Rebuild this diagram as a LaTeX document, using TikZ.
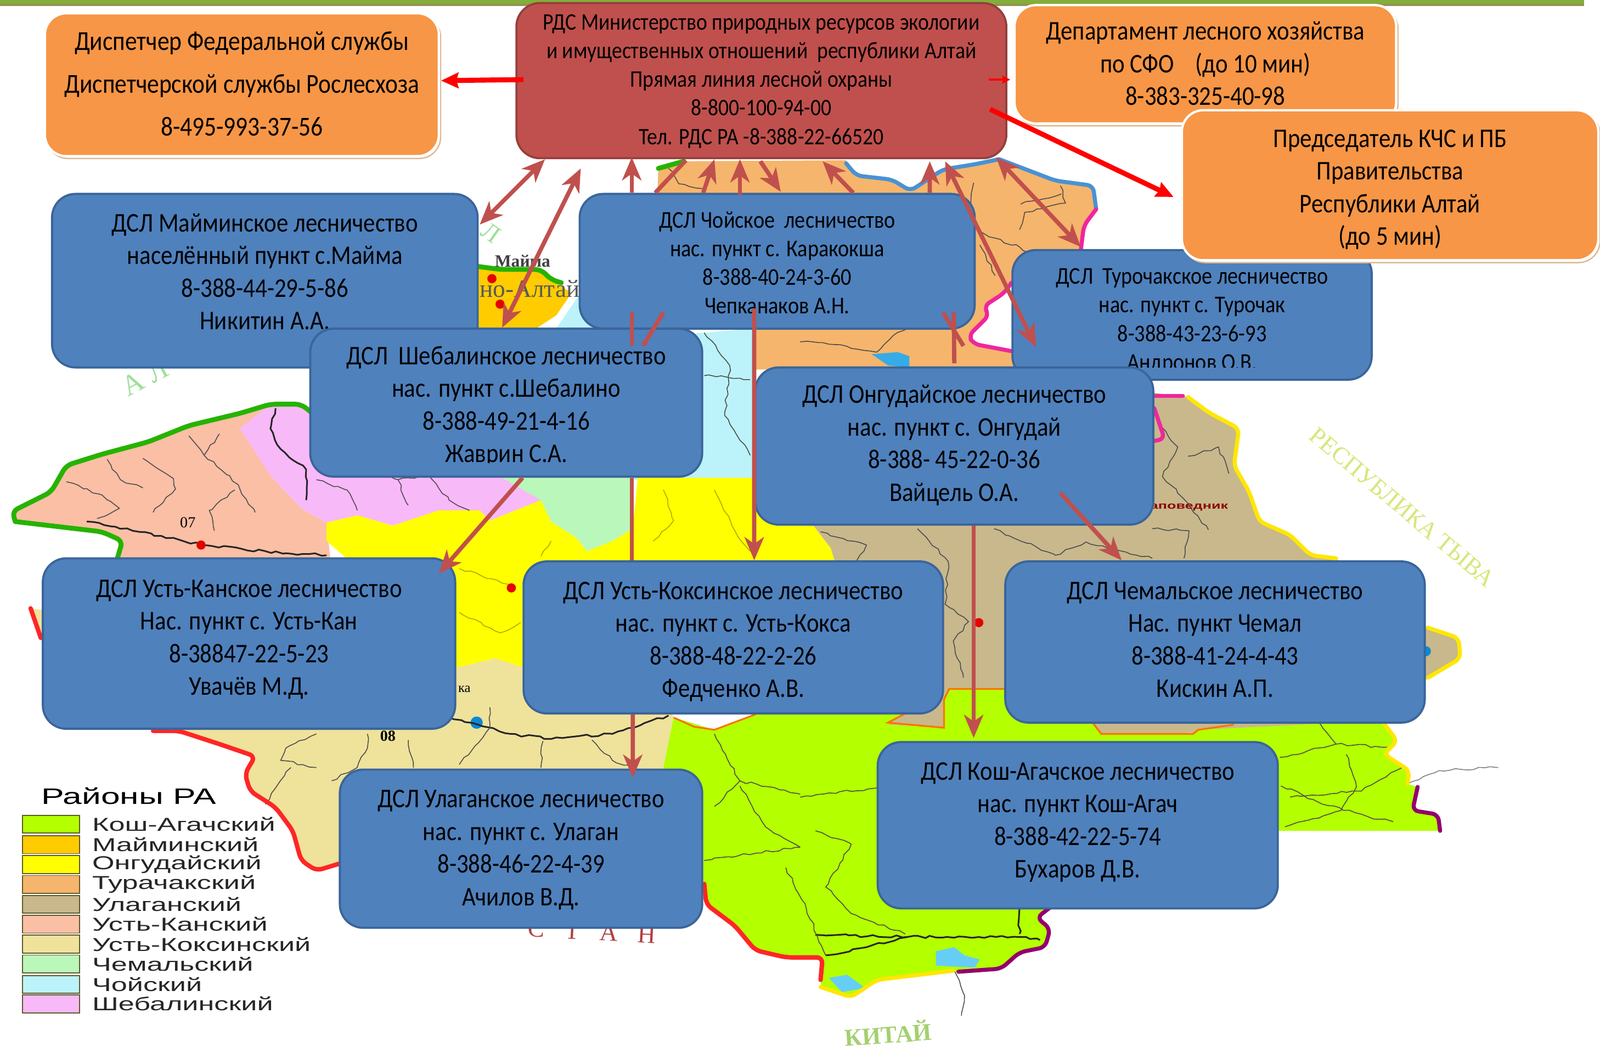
\documentclass[tikz,border=0pt]{standalone}
\usepackage{fontspec}
\setmainfont[FakeStretch=0.87]{Carlito}
\newfontfamily\legfont[FakeStretch=1.53]{Liberation Sans}
\newfontfamily\mapfont{Liberation Serif}
\usetikzlibrary{arrows.meta,shadows,decorations.pathmorphing}
\newlength\un \setlength\un{0.0186cm}
\newcommand{\lns}[4]{\smash{\raisebox{\dimexpr#3\un-2.5\un\relax}{\fontsize{#1}{#2\un}\selectfont\begin{tabular}{@{}c@{}}#4\end{tabular}}}}
\definecolor{cBlue}{HTML}{4F81BD}\definecolor{cBlueD}{HTML}{3A659A}
\definecolor{cOr}{HTML}{F79646}\definecolor{cRed}{HTML}{C0504D}\definecolor{cRedD}{HTML}{94403E}
\definecolor{mLime}{HTML}{B4FF00}\definecolor{mMai}{HTML}{FFCC00}\definecolor{mYel}{HTML}{FFFF00}
\definecolor{mTur}{HTML}{F6B56C}\definecolor{mUla}{HTML}{C8B88C}\definecolor{mKan}{HTML}{FBBFA5}
\definecolor{mKok}{HTML}{EFE29B}\definecolor{mChe}{HTML}{BAF7BA}\definecolor{mCho}{HTML}{BCF3FA}
\definecolor{mShe}{HTML}{F8B9F8}
\definecolor{lGreen}{HTML}{9FDF9A}\definecolor{lTyva}{HTML}{D8E67A}\definecolor{lChina}{HTML}{A4D070}
\tikzset{
 bluebox/.style={draw=cBlueD,line width=1.1pt,fill=cBlue,rounded corners=23\un,inner sep=0pt},
 orbox/.style={draw=white,line width=1.2pt,fill=cOr,rounded corners=21\un,inner sep=0pt,
   copy shadow={shadow xshift=0.9pt,shadow yshift=-1.2pt,fill=white,draw=brown!55!white,line width=.7pt}},
 redbox/.style={draw=cRedD,line width=1.1pt,fill=cRed,rounded corners=23\un,inner sep=0pt},
 link/.style={draw=cRed,line width=2.2pt},
 linkh/.style={link,-{Stealth[length=12pt,width=10pt,inset=3.5pt]}},
 linkd/.style={link,{Stealth[length=12pt,width=10pt,inset=3.5pt]}-{Stealth[length=12pt,width=10pt,inset=3.5pt]}},
 hot/.style={draw=red,line width=2.6pt,-{Stealth[length=9pt,width=8pt,inset=1pt]}},
 hotthin/.style={draw=red,line width=.9pt,-{Stealth[length=4.2pt,width=4.2pt,inset=.5pt]}},
 wob/.style={decorate,decoration={random steps,segment length=3pt,amplitude=.7pt}},
 riv/.style={wob,draw=black!70,line width=.45pt,line join=round},
 rivk/.style={wob,draw=black!85,line width=.85pt,line join=round},
 rivy/.style={wob,draw=olive!75!yellow,line width=.4pt},
 bd/.style={line width=2.1pt,line join=round,line cap=round,rounded corners=3pt},
 swatch/.style={draw=black!45!olive,line width=.5pt,minimum width=56\un,minimum height=17.5\un,inner sep=0pt},
 legtxt/.style={anchor=west,inner sep=0pt,font=\legfont\fontsize{9.7}{10}\selectfont,text=black!85},
 mapl/.style={inner sep=0pt,font=\mapfont},
 dotr/.style={fill=red!90!black,circle,minimum size=9\un,inner sep=0pt},
}
\begin{document}
\begin{tikzpicture}[x=0.0186cm,y=-0.0186cm]
\useasboundingbox (0,0) rectangle (1567.7,1025.3);
\fill[white] (0,0) rectangle (1567.7,1025.3);
% top bar
\fill[olive!55!green!80!white] (0,0) rectangle (1552,4);
\fill[black!35!olive!70] (0,4) rectangle (1552,6);
% ---------- map regions
\fill[mCho] (500,322)--(545,322)--(570,285)--(640,285)--(640,330)--(737,322)--(737,470)--(620,470)--(500,470)--cycle;
\fill[mTur] (645,165)--(670,158)--(829,157)--(839,172)--(874,176)--(892,187)--(924,166)--(955,161)--(979,156)--(1034,177)--(1071,182)--(1074,205)--(1062,221)--(1059,245)--(991,277)--(984,287)--(964,300)--(969,309)--(949,329)--(954,337)--(991,344)--(1000,362)--(737,362)--(737,322)--(640,322)--cycle;
\fill[mMai] (468,261)--(490,264)--(530,264)--(540,274)--(560,287)--(545,309)--(525,322)--(468,322)--cycle;
\fill[mKan] (12,501)--(30,492)--(50,482)--(65,456)--(100,445)--(145,433)--(185,417)--(235,405)--(265,396)--(295,396)--(310,410)--(265,466)--(295,498)--(320,512)--(325,560)--(115,560)--(120,530)--(100,521)--(15,511)--cycle;
\fill[mShe] (235,420)--(265,396)--(295,396)--(320,410)--(520,440)--(530,490)--(480,510)--(470,500)--(430,500)--(385,515)--(350,505)--(320,512)--(295,498)--(265,466)--cycle;
\fill[mKok] (30,596)--(40,618)--(150,716)--(175,716)--(215,729)--(250,741)--(240,758)--(245,775)--(270,791)--(287,814)--(295,843)--(310,853)--(333,846)--(345,880)--(640,840)--(650,752)--(660,703)--(640,650)--(513,654)--(485,645)--(447,654)--cycle;
\fill[mYel] (320,530)--(320,512)--(350,505)--(385,515)--(430,500)--(470,500)--(480,510)--(530,490)--(540,511)--(565,527)--(575,540)--(600,530)--(620,518)--(625,468)--(737,468)--(794,511)--(814,537)--(821,560)--(700,640)--(513,654)--(485,645)--(447,654)--(400,600)--cycle;
\fill[mChe] (490,467)--(620,467)--(620,518)--(600,530)--(575,540)--(565,527)--(540,511)--(530,490)--cycle;
\fill[mUla] (794,511)--(1131,385)--(1164,389)--(1184,404)--(1214,420)--(1209,456)--(1224,482)--(1234,511)--(1264,524)--(1284,544)--(1309,547)--(1399,615)--(1429,625)--(1431,645)--(1399,664)--(1354,706)--(1174,718)--(1079,719)--(1069,706)--(985,675)--(930,675)--(925,685)--(925,713)--(870,710)--(885,698)--(800,700)--(821,560)--(814,537)--cycle;
\fill[mLime] (660,703)--(700,715)--(740,700)--(885,698)--(870,710)--(925,713)--(925,685)--(930,675)--(985,675)--(1069,706)--(1079,719)--(1169,719)--(1174,715)--(1354,706)--(1369,726)--(1356,739)--(1381,755)--(1379,768)--(1389,771)--(1384,794)--(1409,798)--(1411,814)--(1250,814)--(1029,889)--(1016,899)--(1029,910)--(1024,928)--(999,933)--(981,949)--(939,952)--(859,960)--(834,977)--(804,967)--(806,938)--(770,938)--(740,931)--(720,907)--(692,886)--(690,866)--(650,752)--cycle;
% lakes
\fill[cyan!85!blue!80] (854,347)--(880,345)--(891,349)--(891,360)--(870,358)--cycle;
\fill[cyan!60] (917,932)--(935,928)--(945,936)--(960,940)--(955,948)--(917,946)--cycle;
\fill[cyan!60] (812,958)--(830,955)--(848,968)--(825,972)--cycle;
\fill[cyan!70!blue] (1397,638) circle (5);
\fill[cyan!70!blue] (467,708) circle (6);
% rivers
\draw[riv] (185,427)--(200,446)--(225,466)--(235,479)--(250,502);
\draw[riv] (140,449)--(150,456)--(170,469)--(172,479)--(150,502);
\draw[riv] (65,472)--(100,485)--(117,498)--(95,508);
\draw[riv] (105,450)--(118,470)--(140,478);
\draw[riv] (200,446)--(215,425);
\draw[riv] (230,480)--(205,500)--(210,520);
\draw[rivk] (85,511)--(130,520)--(198,534)--(280,542)--(320,544);
\draw[rivk] (270,400)--(265,420)--(275,440)--(300,460)--(300,490);
\draw[riv] (350,450)--(390,470)--(420,465)--(440,490)--(460,500);
\draw[riv] (310,470)--(340,480)--(350,500);
\draw[riv] (390,470)--(400,495);
\draw[rivk] (440,703)--(500,719)--(540,724)--(600,719)--(655,701);
\draw[riv] (360,719)--(360,733)--(350,752)--(325,765);
\draw[riv] (310,719)--(280,733)--(275,745)--(310,752);
\draw[riv] (532,726)--(530,752);
\draw[riv] (285,752)--(270,772)--(260,788);
\draw[riv] (480,693)--(480,713)--(450,749);
\draw[riv] (580,725)--(600,745)--(620,752);
\draw[riv] (400,725)--(405,752);
\draw[riv] (1254,742)--(1309,729)--(1359,732);
\draw[riv] (1319,739)--(1329,771)--(1314,794)--(1259,810);
\draw[riv] (1264,781)--(1334,775)--(1374,752);
\draw[riv] (1289,706)--(1309,729);
\draw[riv] (1255,770)--(1290,785)--(1340,800);
\draw[riv] (1340,800)--(1365,805);
\draw[rivk] (799,916)--(889,918)--(959,918)--(999,918)--(1019,921);
\draw[rivk] (809,936)--(849,928)--(889,918);
\draw[rivk] (999,889)--(999,915);
\draw[riv] (700,719)--(725,765)--(784,778);
\draw[riv] (690,843)--(784,830);
\draw[riv] (784,781)--(859,772);
\draw[riv] (799,814)--(834,827)--(809,869)--(834,895)--(887,915);
\draw[riv] (725,765)--(700,790);
\draw[riv] (725,770)--(750,810)--(784,830);
\draw[riv] (770,850)--(790,890)--(809,936);
\draw[riv] (935,951)--(945,975)--(942,995);
\draw[riv] (804,521)--(849,534)--(839,550);
\draw[riv] (899,518)--(929,550)--(926,592)--(949,609)--(934,628)--(944,664);
\draw[riv] (974,518)--(1034,544)--(1064,531)--(1129,547);
\draw[riv] (1134,415)--(1154,438)--(1139,467)--(1164,493)--(1184,519);
\draw[riv] (1164,447)--(1194,438)--(1204,464);
\draw[riv] (1129,518)--(1165,520)--(1160,547);
\draw[riv] (954,179)--(949,218)--(969,232)--(999,242)--(1024,258);
\draw[riv] (1039,182)--(1044,199)--(1004,208)--(999,225);
\draw[riv] (784,335)--(829,339)--(859,345)--(879,326)--(919,313);
\draw[riv] (960,240)--(975,270);
\draw[riv] (1000,200)--(1040,190);
\draw[riv] (690,326)--(715,358)--(710,407)--(735,446);
\draw[riv] (690,368)--(735,372);
\draw[riv] (655,165)--(665,180)--(690,185);
\draw[rivy] (450,557)--(500,573);
\draw[rivy] (450,600)--(490,620)--(510,610);
\draw[rivy] (650,480)--(660,510)--(640,530);
\draw[rivy] (700,480)--(720,520)--(735,540);
\draw[rivy] (540,530)--(530,545);
\draw[riv,draw=gray] (1379,768)--(1410,755)--(1468,752);
% borders
\draw[bd,draw=green!65!black!85!yellow,line width=2.5pt] (15,511)--(12,501)--(30,492)--(50,482)--(65,456)--(100,445)--(145,433)--(185,417)--(235,405)--(265,396)--(295,396)--(305,404);
\draw[bd,draw=green!65!black!85!yellow,line width=2.5pt] (15,511)--(100,521)--(120,530)--(115,547);
\draw[bd,draw=green!65!black!85!yellow,line width=2.5pt] (468,261)--(490,264)--(530,264)--(540,274)--(550,277);
\draw[bd,draw=green!65!black!85!yellow,line width=2.5pt] (645,165)--(670,158);
\draw[bd,draw=cyan!60!blue!75] (829,160)--(839,172)--(874,176)--(892,187)--(924,166)--(955,161)--(979,156);
\draw[bd,draw=cyan!60!blue!75] (979,156)--(1034,177)--(1071,182)--(1074,205);
\draw[bd,draw=magenta!85!white] (1074,205)--(1062,221)--(1059,245);
\draw[bd,draw=magenta!85!white] (991,277)--(984,287)--(964,300)--(969,309)--(949,329)--(954,337)--(991,344);
\draw[bd,draw=magenta!85!white] (1131,388)--(1159,388);
\draw[bd,draw=magenta!85!white] (1131,400)--(1141,430)--(1131,432);
\draw[bd,draw=yellow!90!orange] (1164,389)--(1184,404)--(1214,420)--(1209,456)--(1224,482)--(1234,511)--(1264,524)--(1284,544)--(1309,547);
\draw[bd,draw=yellow!90!orange] (1399,615)--(1429,625)--(1431,645)--(1399,664);
\draw[bd,draw=yellow!90!orange] (1354,706)--(1369,726)--(1356,739)--(1381,755)--(1379,768);
\draw[bd,draw=purple!30!violet] (1389,771)--(1384,794)--(1409,798)--(1411,814);
\draw[bd,draw=purple!30!violet] (939,952)--(981,949)--(999,933)--(1024,928)--(1029,910)--(1016,899)--(1029,889);
\draw[bd,draw=yellow!90!orange] (804,967)--(834,977)--(859,960)--(934,951);
\draw[bd,draw=red!80!pink,line width=2.3pt] (30,596)--(40,625);
\draw[bd,draw=red!80!pink,line width=2.3pt] (150,716)--(175,716)--(215,729)--(250,741)--(240,758)--(245,775)--(270,791)--(287,814)--(295,843)--(310,853)--(333,846);
\draw[bd,draw=red!80!pink,line width=2.3pt] (690,866)--(692,886)--(720,907)--(740,931)--(770,938)--(806,938)--(804,960);
\draw[draw=orange!90!red,line width=.9pt] (660,703)--(680,712)--(700,715)--(740,700);
\draw[draw=orange!90!red,line width=.9pt] (889,698)--(870,708)--(925,713)--(925,685)--(930,675)--(985,675);
\draw[draw=orange!90!red,line width=.9pt] (1069,706)--(1079,719)--(1169,719)--(1174,715)--(1209,710);
% map labels
\node[mapl,text=lGreen,rotate=28,font=\mapfont\fontsize{15}{15}\selectfont] (lblA) at (142,370) {А Л};
\node[mapl,text=lGreen,rotate=-35,font=\mapfont\fontsize{13}{13}\selectfont] (lblB) at (481,228) {Л};
\node[mapl,text=lTyva,rotate=-40,font=\mapfont\fontsize{12.5}{13}\selectfont] (lblT) at (1374,497) {РЕСПУБЛИКА ТЫВА};
\node[mapl,text=lChina,rotate=4,font=\mapfont\bfseries\fontsize{12.5}{13}\selectfont] (lblK) at (870,1012) {КИТАЙ};
\node[mapl,text=red!60!black!75,rotate=-3,font=\mapfont\fontsize{13}{13}\selectfont] (lblS) at (580,913) {С\hspace{.8em}Т\hspace{.8em}А\hspace{.8em}Н};
\node[mapl,text=black!75,font=\mapfont\bfseries\fontsize{9}{10}\selectfont] (lblM) at (512,256) {Майма};
\node[mapl,text=black!65,font=\mapfont\fontsize{12.9}{13}\selectfont] (lblG) at (519,283) {но-Алтай};
\node[mapl,font=\mapfont\fontsize{8}{8}\selectfont] (lbl07) at (184,512) {07};
\node[mapl,font=\mapfont\bfseries\fontsize{8}{8}\selectfont] (lbl08) at (380,721) {08};
\node[mapl,text=red!55!black,font=\legfont\bfseries\fontsize{5}{6}\selectfont] (lblZ) at (1165,497) {аповедник};
\node[mapl,font=\mapfont\fontsize{7}{7}\selectfont] (lblKa) at (455,675) {ка};
\node[dotr] (d1) at (197,534) {};
\node[dotr] (d2) at (501,576) {};
\node[dotr] (d3) at (959,610) {};
\node[dotr] (d4) at (482,273) {};
\node[dotr] (d5) at (490,298) {};
% legend
\node[inner sep=0pt,anchor=west,font=\legfont\fontsize{11.6}{12}\selectfont] (legT) at (40,780) {Районы РА};
\foreach \i/\c/\t/\yy in {0/mLime/Кош-Агачский/807.5,1/mMai/Майминский/827.5,2/mYel/Онгудайский/847,3/mTur/Турачакский/866.5,4/mUla/Улаганский/886,5/mKan/Усть-Канский/905.5,6/mKok/Усть-Коксинский/925,7/mChe/Чемальский/944.5,8/mCho/Чойский/964.5,9/mShe/Шебалинский/983.5}{
 \node[swatch,fill=\c] (sw\i) at (50,\yy) {};
 \node[legtxt] (lt\i) at (90,\yy) {\t};
}
% ---------- boxes
\node[orbox,minimum width=386\un,minimum height=140\un] (disp) at (237,83) {\lns{14.2}{42}{-4}{Диспетчер Федеральной службы\\Диспетчерской службы Рослесхоза\\8-495-993-37-56}};
\node[redbox,minimum width=480\un,minimum height=152\un] (rds) at (746,79) {\lns{12.3}{28}{-4}{РДС Министерство природных ресурсов экологии\\и имущественных отношений\ \ республики Алтай\\Прямая линия лесной охраны\\8-800-100-94-00\\Тел. РДС РА -8-388-22-66520}};
\node[orbox,minimum width=374\un,minimum height=116\un] (dep) at (1181,63) {\lns{14}{32}{-6}{Департамент лесного хозяйства\\по СФО\ \ \ \ (до 10 мин)\\8-383-325-40-98}};
\node[bluebox,minimum width=417\un,minimum height=170\un] (mai) at (259.5,275) {\lns{14}{32}{2}{ДСЛ Майминское лесничество\\населённый пункт с.Майма\\8-388-44-29-5-86\\Никитин А.А.}};
\node[bluebox,minimum width=387\un,minimum height=132\un] (cho) at (761.5,256) {\lns{12.5}{28}{-7}{ДСЛ Чойское\ \ лесничество\\нас. пункт с. Каракокша\\8-388-40-24-3-60\\Чепканаков А.Н.}};
\node[bluebox,minimum width=352\un,minimum height=127\un] (tur) at (1168,308.5) {\lns{12.5}{28}{-9.5}{ДСЛ\ \ Турочакское лесничество\\нас. пункт с. Турочак\\8-388-43-23-6-93\\Андронов О.В.}};
\fill[cBlue] (1090,360) rectangle (1240,370);
\node[orbox,minimum width=408\un,minimum height=147\un] (kchs) at (1362,181.5) {\lns{14}{32}{-8.5}{Председатель КЧС и ПБ\\Правительства\\Республики Алтай\\(до 5 мин)}};
\node[bluebox,minimum width=384\un,minimum height=145\un] (she) at (496,394.5) {\lns{14}{32}{-8.5}{ДСЛ\ \ Шебалинское лесничество\\нас. пункт с.Шебалино\\8-388-49-21-4-16\\Жаврин С.А.}};
\fill[cBlue] (430,454) rectangle (560,462);
\node[bluebox,minimum width=390\un,minimum height=154\un] (ong) at (935,437) {\lns{14}{32}{-4}{ДСЛ Онгудайское лесничество\\нас. пункт с. Онгудай\\8-388- 45-22-0-36\\Вайцель О.А.}};
\node[bluebox,minimum width=404\un,minimum height=167\un] (kan) at (244,630.5) {\lns{14}{32}{-0.5}{ДСЛ Усть-Канское лесничество\\Нас. пункт с. Усть-Кан\\8-38847-22-5-23\\Увачёв М.Д.}};
\node[bluebox,minimum width=411\un,minimum height=149\un] (kok) at (718.5,624.5) {\lns{14}{32}{-8.5}{ДСЛ Усть-Коксинское лесничество\\нас. пункт с. Усть-Кокса\\8-388-48-22-2-26\\Федченко А.В.}};
\node[bluebox,minimum width=411\un,minimum height=158\un] (che) at (1190.5,629) {\lns{14}{32}{-4}{ДСЛ Чемальское лесничество\\Нас. пункт Чемал\\8-388-41-24-4-43\\Кискин А.П.}};
\node[bluebox,minimum width=355\un,minimum height=155\un] (ula) at (510.5,831.5) {\lns{14}{32}{-5.5}{ДСЛ Улаганское лесничество\\нас. пункт с. Улаган\\8-388-46-22-4-39\\Ачилов В.Д.}};
\node[bluebox,minimum width=392\un,minimum height=163\un] (kos) at (1056,808.5) {\lns{14}{32}{-1.5}{ДСЛ Кош-Агачское лесничество\\нас. пункт Кош-Агач\\8-388-42-22-5-74\\Бухаров Д.В.}};
% ---------- connectors (red)
\draw[hot] ([yshift=1*\un,xshift=8*\un]rds.west) -- ([yshift=4*\un,xshift=1*\un]disp.east);
\draw[hotthin] ([xshift=-18*\un,yshift=1*\un]rds.east) -- ([xshift=-3*\un,yshift=-15*\un]dep.west);
\draw[hot] ([xshift=-17*\un,yshift=-28*\un]rds.east) -- ([xshift=-7*\un,yshift=-11.5*\un]kchs.west);
% ---------- connectors (brick)
\coordinate (cA) at ([xshift=-212*\un]rds.south);
\coordinate (cB) at ([xshift=-177*\un,yshift=-9*\un]rds.south);
\draw[linkd] (cA) -- ([xshift=1*\un,yshift=55*\un]mai.east);
\draw[linkd] (cB) -- ([xshift=-4*\un]she.north);
\draw[linkh] ([xshift=-142.5*\un]cho.north) -- ([xshift=-127*\un,yshift=2*\un]rds.south);
\draw[link] ([xshift=-119.5*\un]cho.north) -- ([xshift=-74*\un,yshift=-1*\un]rds.south);
\draw[linkh] ([xshift=-72.5*\un]cho.north) -- ([xshift=-46*\un]rds.south);
\draw[linkh] ([xshift=-36.5*\un,yshift=-2*\un]cho.north) -- ([xshift=-21*\un]rds.south);
\draw[linkh] ([xshift=-1*\un,yshift=-2*\un]rds.south) -- ([xshift=3.5*\un,yshift=1*\un]cho.north);
\draw[linkh] ([xshift=74.5*\un]cho.north) -- ([xshift=60*\un,yshift=-2*\un]rds.south);
\draw[linkh] ([xshift=149.5*\un]cho.north) -- ([xshift=165*\un,yshift=-2*\un]rds.south);
\draw[linkd] ([xshift=180*\un,yshift=-2*\un]rds.south) -- ([xshift=24*\un,yshift=-31.5*\un]tur.west);
\draw[linkd] ([xshift=230*\un,yshift=2*\un]rds.south) -- ([xshift=-109*\un,yshift=2*\un]tur.north);
% segments over Choya / Shebalino
\draw[link] ([xshift=-142.5*\un,yshift=17*\un]cho.south) -- ([xshift=123*\un,yshift=-18*\un]she.north);
\draw[link] ([xshift=-111.5*\un,yshift=17*\un]cho.south) -- ([xshift=134*\un,yshift=-18*\un]she.north);
\draw[link] ([xshift=162.5*\un,yshift=17*\un]cho.south) -- ([xshift=9*\un,yshift=20*\un]ong.north);
\draw[link] ([xshift=173*\un,yshift=17*\un]cho.south) -- ([xshift=0*\un,yshift=3*\un]ong.north);
\draw[link] ([xshift=123*\un]she.south) -- ([xshift=-99.5*\un]kok.north);
\draw[linkh] ([xshift=-22.5*\un,yshift=21*\un]cho.south) -- ([xshift=20.5*\un]kok.north);
\draw[linkh] ([xshift=16*\un]she.south) -- ([xshift=186*\un,yshift=-16*\un]kan.north);
\draw[linkh] ([xshift=104*\un,yshift=32*\un]ong.south) -- ([xshift=-91.5*\un]che.north);
\draw[linkh] ([xshift=19*\un]ong.south) -- ([xshift=-102*\un,yshift=3*\un]kos.north);
\draw[linkh] ([xshift=-98.5*\un]kok.south) -- ([xshift=109.5*\un,yshift=-9*\un]ula.north);
\end{tikzpicture}
\end{document}
